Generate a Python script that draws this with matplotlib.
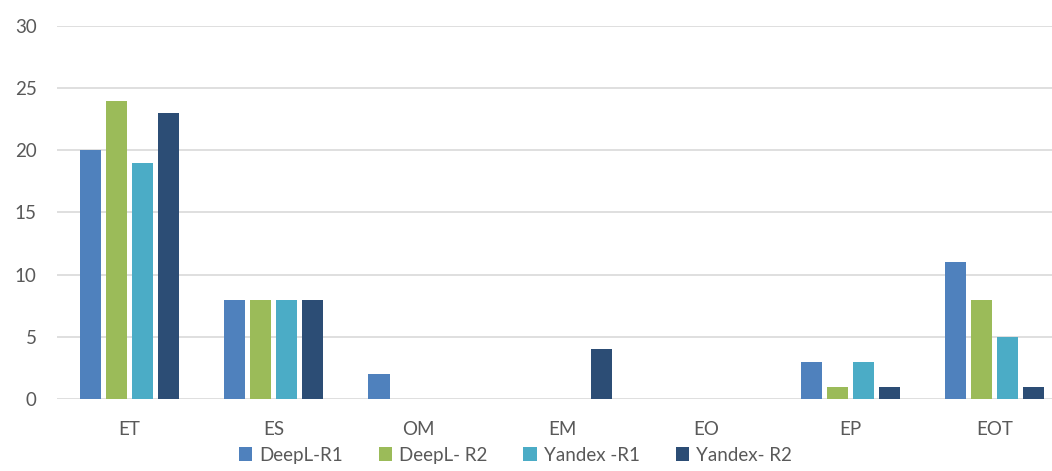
import matplotlib.pyplot as plt
import numpy as np

categories = ['ET', 'ES', 'OM', 'EM', 'EO', 'EP', 'EOT']
series_names = ['DeepL-R1', 'DeepL- R2', 'Yandex -R1', 'Yandex- R2']
deepl_r1 = [20, 8, 2, 0, 0, 3, 11]
deepl_r2 = [24, 8, 0, 0, 0, 1, 8]
yandex_r1 = [19, 8, 0, 0, 0, 3, 5]
yandex_r2 = [23, 8, 0, 4, 0, 1, 1]
colors = ['#4F81BD', '#9BBB59', '#4BACC6', '#2C4D75']

plt.rcParams['font.family'] = ['Lato', 'DejaVu Sans']

fig = plt.figure(figsize=(10.52, 4.71), dpi=100)
ax = fig.add_axes([0.0546, 0.1529, 0.9454, 0.7919])

x = np.arange(len(categories))
step = 0.18
width = 0.146
all_series = [deepl_r1, deepl_r2, yandex_r1, yandex_r2]
for i, (vals, name, c) in enumerate(zip(all_series, series_names, colors)):
    vals = np.array(vals, dtype=float)
    ax.bar(x + (i - 1.5) * step, vals, width, color=c, label=name,
           edgecolor='none', zorder=3)

ax.set_xlim(-0.5, 6.397)
ax.set_ylim(0, 30)
ax.set_yticks(range(0, 31, 5))
ax.set_xticks(x)
ax.set_xticklabels(categories)
ax.grid(axis='y', color='#D9D9D9', linewidth=1.2, zorder=0)
ax.tick_params(axis='both', length=0, labelsize=13.5, colors='#595959')
ax.tick_params(axis='y', pad=15)
ax.tick_params(axis='x', pad=16)
for s in ax.spines.values():
    s.set_visible(False)

fig.legend(loc='lower center', bbox_to_anchor=(0.49, -0.02), ncol=4,
           frameon=False, fontsize=13.5, handlelength=0.7, handleheight=0.7,
           handletextpad=0.4, columnspacing=1.9, labelcolor='#595959')

fig.savefig('out.png', dpi=100)
